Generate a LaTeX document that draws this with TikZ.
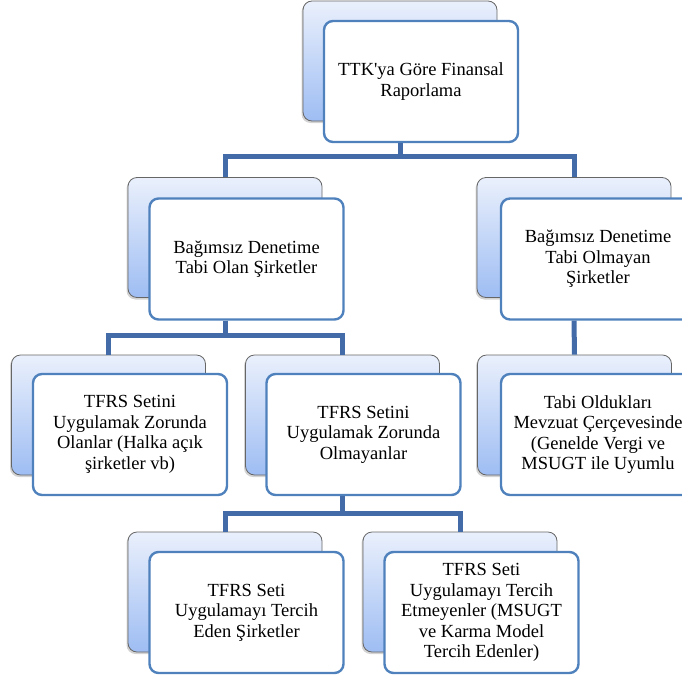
\documentclass[tikz,border=0pt]{standalone}
\usepackage{fontspec}
\setmainfont{Liberation Serif}
\usetikzlibrary{shadows}
\definecolor{linkblue}{RGB}{66,107,168}
\definecolor{frameblue}{RGB}{79,129,189}
\definecolor{topblue}{RGB}{234,240,252}
\definecolor{botblue}{RGB}{158,189,243}

\begin{document}
\begin{tikzpicture}[
    x=1pt, y=-1pt,
    back/.style={rectangle, rounded corners=9pt, draw=black!60, line width=0.8pt, top color=topblue, bottom color=botblue, minimum width=194pt, minimum height=120pt, drop shadow={shadow xshift=-1.5pt, shadow yshift=-2pt, opacity=0.35}},
    front/.style={rectangle, rounded corners=9pt, draw=frameblue, line width=2.4pt, fill=white, minimum width=194pt, minimum height=121pt, align=center, font=\fontsize{18.5}{20.5}\selectfont},
    link/.style={draw=linkblue, line width=5pt}
]
    \clip (0,0) rectangle (682,680);

    % Top node
    \node[back] (rootb) at (400,61) {};
    \node[front] (rootf) at (421,81.5) {TTK\textquotesingle ya Göre Finansal\\Raporlama};

    % Second level
    \node[back] (auditb) at (225,237.5) {};
    \node[front] (auditf) at (246.5,259) {Bağımsız Denetime\\Tabi Olan Şirketler};
    \node[back] (noauditb) at (574,237.5) {};
    \node[front] (noauditf) at (598,259) {Bağımsız Denetime\\Tabi Olmayan\\Şirketler};

    % Third level
    \node[back] (mustb) at (108.5,415) {};
    \node[front] (mustf) at (130,434.5) {TFRS Setini\\Uygulamak Zorunda\\Olanlar (Halka açık\\şirketler vb)};
    \node[back] (notmustb) at (342.5,415) {};
    \node[front] (notmustf) at (363.5,434.5) {TFRS Setini\\Uygulamak Zorunda\\Olmayanlar};
    \node[back] (lawb) at (574.5,415) {};
    \node[front] (lawf) at (598,434.5) {Tabi Oldukları\\Mevzuat Çerçevesinde\\(Genelde Vergi ve\\MSUGT ile Uyumlu};

    % Fourth level
    \node[back] (prefb) at (225,592) {};
    \node[front] (preff) at (246.5,612.5) {TFRS Seti\\Uygulamayı Tercih\\Eden Şirketler};
    \node[back] (noprefb) at (460,592) {};
    \node[front] (nopreff) at (481.5,612.5) {TFRS Seti\\Uygulamayı Tercih\\Etmeyenler (MSUGT\\ve Karma Model\\Tercih Edenler)};

    % Connectors
    \draw[link] (rootb |- rootf.south) -- ++(0,13.5) -| (auditb.north);
    \draw[link] (rootb |- rootf.south) -- ++(0,13.5) -| (noauditb.north);
    \draw[link] (auditb |- auditf.south) -- ++(0,15) -| (mustb.north);
    \draw[link] (auditb |- auditf.south) -- ++(0,15) -| (notmustb.north);
    \draw[link] (noauditb |- noauditf.south) -- (lawb.north);
    \draw[link] (notmustb |- notmustf.south) -- ++(0,17) -| (prefb.north);
    \draw[link] (notmustb |- notmustf.south) -- ++(0,17) -| (noprefb.north);
\end{tikzpicture}
\end{document}
